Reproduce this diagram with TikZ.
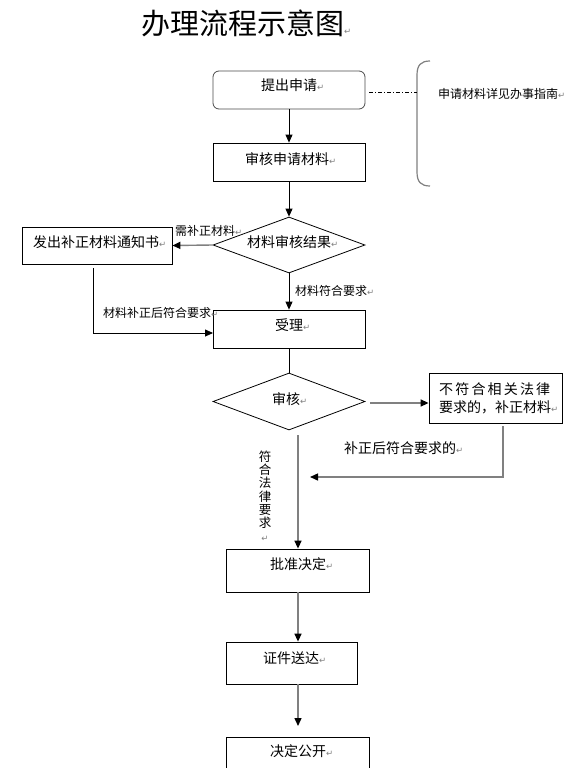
\documentclass[tikz,border=0pt]{standalone}
\usepackage{fontspec}
\setmainfont{Noto Sans CJK SC}
\newfontfamily\dvfont{DejaVu Sans}
\usetikzlibrary{shapes.geometric,arrows.meta}
\newcommand\pmark{{\color{gray}\dvfont\fontsize{8.5}{8.5}\selectfont ↵}}
\newcommand\fs[1]{\fontsize{#1}{#1}\selectfont}
\tikzset{
  box/.style={draw=black, line width=0.8pt, inner sep=0pt, minimum width=#1},
  dia/.style={draw=black, line width=0.8pt, diamond, inner sep=0pt, minimum width=152pt, minimum height=#1},
  txt/.style={anchor=west, inner sep=0pt, font=\fs{14}},
  lbl/.style={anchor=west, inner sep=0pt, font=\fs{12}},
  barrow/.style={draw=black, line width=0.8pt, -{Triangle[length=8pt,width=7pt]}},
  garrow/.style={draw=gray, line width=1.4pt, -{Triangle[length=8pt,width=7pt,fill=black,color=black]}},
  bline/.style={draw=black, line width=0.8pt},
  gline/.style={draw=gray, line width=1.4pt},
}
\begin{document}
\begin{tikzpicture}[x=1pt,y=-1pt]
\clip (0,0) rectangle (580,768);
\fill[white] (0,0) rectangle (580,768);
% title
\node[anchor=west, inner sep=0pt, font=\fs{29}] (title) at (141,23) {办理流程示意图\pmark};
% shapes
\node[box=152pt, minimum height=38pt, rounded corners=6pt, draw=black!70] (b1) at (289,90) {};
\node[box=152pt, minimum height=38pt] (b2) at (289,162) {};
\node[dia=56pt] (d1) at (289,245) {};
\node[box=150pt, minimum height=37pt] (b3) at (97,245.5) {};
\node[box=152pt, minimum height=38pt] (b4) at (289,329) {};
\node[dia=57pt] (d2) at (289,401.5) {};
\node[box=133pt, minimum height=50pt] (b5) at (495.5,398) {};
\node[box=143pt, minimum height=43pt] (b6) at (297.5,570.5) {};
\node[box=131pt, minimum height=42pt] (b7) at (291.5,663) {};
\node[box=143pt, minimum height=43pt] (b8) at (297.5,758.5) {};
% brace and dash-dot
\coordinate (br1) at (430,61);
\coordinate (br2) at (430,186);
\coordinate (dd) at (417,92);
\draw[gray, line width=1.2pt] (br1) .. controls (421,61) and (417,65) .. (417,75) -- (417,172) .. controls (417,182) and (421,186) .. (br2);
\draw[black, line width=0.8pt, dash pattern=on 4pt off 2pt on 1pt off 2pt] (b1.east) ++(4,2) coordinate (dd0) (dd0) -- (dd);
% texts
\node[txt] (t1) at (261,85) {提出申请\pmark};
\node[txt] (t2) at (245,159) {审核申请材料\pmark};
\node[lbl] (t3) at (438,94) {申请材料详见办事指南\pmark};
\node[txt] (t4) at (247,242) {材料审核结果\pmark};
\node[txt] (t5) at (33,242) {发出补正材料通知书\pmark};
\node[lbl] (t6) at (175,231) {需补正材料\pmark};
\node[lbl] (t7) at (295,291) {材料符合要求\pmark};
\node[lbl] (t8) at (103,313) {材料补正后符合要求\pmark};
\node[txt] (t9) at (275,325) {受理\pmark};
\node[txt] (t10) at (272,399) {审核\pmark};
\node[txt] (t11) at (439,389) {\makebox[111pt][l]{不\hfill 符\hfill 合\hfill 相\hfill 关\hfill 法\hfill 律}};
\node[txt] (t12) at (439,407) {要求的，补正材料\pmark};
\node[txt] (t13) at (344,448) {补正后符合要求的\pmark};
\node[inner sep=0pt, align=center, font=\fontsize{12.5}{13.3}\selectfont] (t14) at (265,496) {符\\合\\法\\律\\要\\求\\\pmark};
\node[txt] (t15) at (270,564) {批准决定\pmark};
\node[txt] (t16) at (263,658) {证件送达\pmark};
\node[txt] (t17) at (270,751) {决定公开\pmark};
% connectors
\draw[barrow] (b1.south) -- (b2.north);
\draw[barrow] (b2.south) -- (d1.north);
\draw[garrow] (d1.west) -- (b3.east);
\coordinate (c1) at (93,268);
\coordinate (c2) at (213,333);
\draw[barrow] (c1) |- (c2);
\draw[barrow] (d1.south) -- (b4.north);
\draw[bline] (b4.south) -- (d2.north);
\coordinate (c3) at (370,403);
\draw[garrow] (c3) -- (c3 -| b5.west);
\coordinate (c5) at (503,426);
\coordinate (c6) at (310,477);
\draw[garrow] (c5) |- (c6);
\coordinate (c7) at (298,435);
\draw[garrow] (c7) -- (c7 |- b6.north);
\draw[garrow] (c7 |- b6.south) -- (c7 |- b7.north);
\coordinate (c8) at (298,726);
\draw[garrow] (c7 |- b7.south) -- (c8);
\end{tikzpicture}
\end{document}
